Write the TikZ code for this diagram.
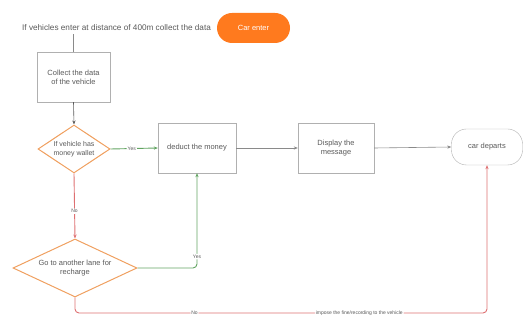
\documentclass[tikz,border=0pt]{standalone}
\usepackage{fontspec}
\setmainfont{Liberation Sans}
\usetikzlibrary{shapes.geometric,arrows.meta}
\definecolor{txt}{HTML}{5A5A5A}
\definecolor{boxline}{HTML}{B0B0B0}
\definecolor{pillorange}{HTML}{FF7A1E}
\definecolor{decline}{HTML}{F0A060}
\definecolor{noline}{HTML}{DE7072}
\definecolor{yesline}{HTML}{62A462}
\definecolor{flowline}{HTML}{8A8A8A}
\tikzset{
  every node/.style={font=\fontsize{7.5}{9}\selectfont, text=txt},
  procbox/.style={draw=boxline, fill=white, minimum width=#1, minimum height=50pt, align=center, inner sep=2pt},
  decision/.style={diamond, draw=decline, line width=1pt, fill=white, align=center, inner sep=0pt},
  pillnode/.style={rectangle, rounded corners=15pt, align=center},
  tip/.style={-{Stealth[length=4pt,width=3.2pt]}},
  flow/.style={draw=flowline, line width=0.6pt, tip},
  yesflow/.style={draw=yesline, line width=0.9pt, tip, rounded corners=4pt},
  noflow/.style={draw=noline, line width=0.9pt, tip, rounded corners=4pt},
  lbl/.style={fill=white, inner sep=1pt, font=\fontsize{5}{6}\selectfont},
}
\begin{document}
\begin{tikzpicture}[x=1pt,y=-1pt]
  \useasboundingbox (0,0) rectangle (528,320);
  % start text with the orange terminator drawn over its end
  \node[anchor=west, inner sep=0pt, font=\fontsize{8.2}{10}\selectfont] (intro) at (22,28) {If vehicles enter at distance of 400m collect the data};
  \node[pillnode, fill=pillorange, minimum width=73pt, minimum height=30pt, text=white] (start) at (253.5,28) {Car enter};
  % process boxes
  \node[procbox=73pt] (collect) at (73.5,77) {Collect the data\\of the vehicle};
  \node[procbox=78pt] (deduct) at (197,148) {deduct the money};
  \node[procbox=76pt] (display) at (336,148) {Display the\\message};
  \node[pillnode, draw=boxline, fill=white, minimum width=71pt, minimum height=36pt] (finish) at (487,147) {car departs};
  % decisions
  \node[decision, aspect=1.5, minimum width=72pt, minimum height=48pt, font=\fontsize{7}{8.4}\selectfont] (wallet) at (74,149) {If vehicle has\\money wallet};
  \node[decision, aspect=2, minimum width=124pt, minimum height=58pt] (lane) at (75,268) {Go to another lane for\\recharge};
  % connectors
  \draw[draw=flowline, line width=0.6pt] (intro.south -| collect.north) ++(0,3) -- (collect.north);
  \draw[flow, draw=txt] (collect.south) -- (wallet.north);
  \draw[yesflow] (wallet.east) -- node[lbl, pos=0.45] {Yes} (deduct.west);
  \draw[flow] (deduct.east) -- (display.west);
  \draw[flow] (display.east) -- (finish.west);
  \draw[noflow] (wallet.south) -- node[lbl, pos=0.58] {No} (lane.north);
  \draw[yesflow] (lane.east) -| node[lbl, pos=0.56] {Yes} (deduct.south);
  \coordinate (bend) at (75,313);
  \draw[noflow] (lane.south) -- (bend) -- node[lbl, pos=0.29] {No} node[lbl, pos=0.69] {impose the fine/recording to the vehicle} (bend -| finish.south) -- (finish.south);
\end{tikzpicture}
\end{document}
